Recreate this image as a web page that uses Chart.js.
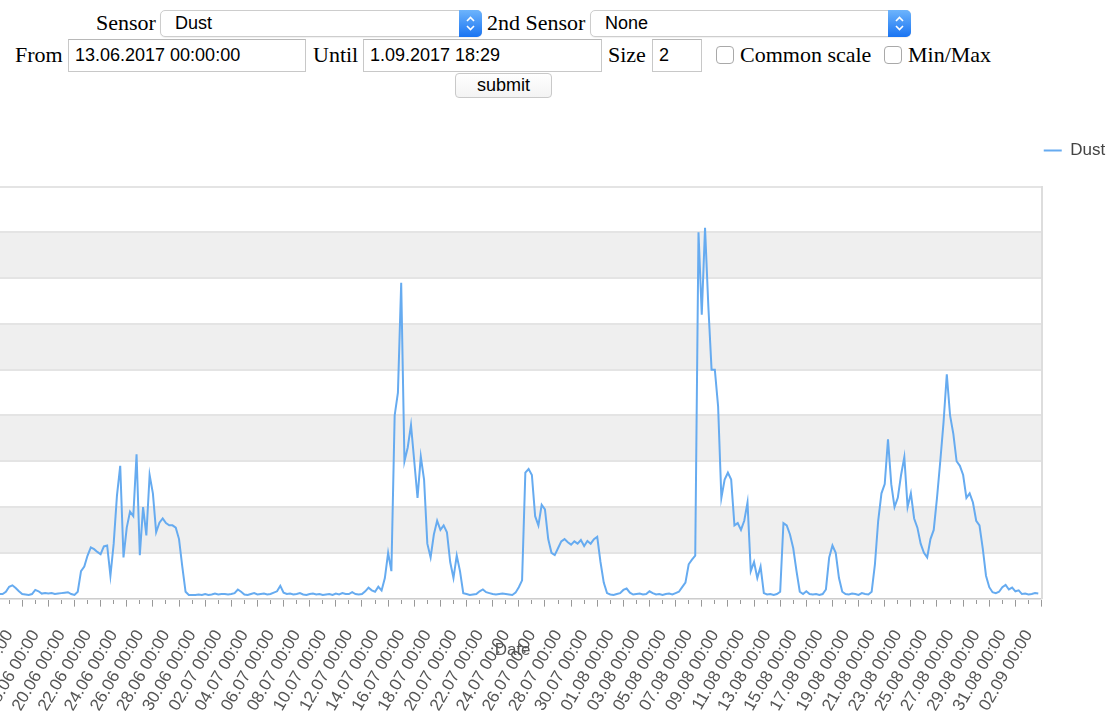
<!DOCTYPE html>
<html>
<head>
<meta charset="utf-8">
<script src="https://cdn.jsdelivr.net/npm/chart.js@4.4.1/dist/chart.umd.min.js"></script>
<style>
  body { margin: 0; width: 1106px; height: 712px; overflow: hidden; position: relative; background: #fff; }
  .t { position: absolute; font: 22px "Liberation Serif", "Times New Roman", serif; color: #000; line-height: 26px; white-space: nowrap; }
  .sel { position: absolute; top: 10px; height: 27px; box-sizing: border-box; border: 1px solid #cdcdcd; border-radius: 5px;
         background: #fff; box-shadow: 0 1px 1px rgba(0,0,0,0.06); font: 18px "Liberation Sans", Arial, sans-serif;
         line-height: 25px; padding-left: 14px; color: #000; }
  .arr { position: absolute; right: -1px; top: -1px; width: 23px; height: 27px; border-radius: 0 5px 5px 0;
         background: linear-gradient(#6db4fc, #1a74f2); }
  .arr svg { position: absolute; left: 6px; top: 5px; }
  input.inp { position: absolute; top: 39px; height: 33px; box-sizing: border-box; border: 1px solid #c8c8c8; border-top-color: #b8b8b8;
         font: 18px "Liberation Sans", Arial, sans-serif; padding: 0 0 0 6px; margin: 0; outline: none; color: #000; background: #fff; }
  .cb { position: absolute; top: 46px; width: 18px; height: 18px; box-sizing: border-box; border: 1px solid #a9a9a9; border-radius: 4px; background: #fff; }
  button.btn { position: absolute; left: 455px; top: 73px; width: 97px; height: 25px; box-sizing: border-box; border: 1px solid #c9c9c9;
         border-radius: 4px; font: 18px "Liberation Sans", Arial, sans-serif; background: linear-gradient(#fff, #f3f3f3); color: #000; padding: 0; margin: 0; }
  #wrap { position: absolute; left: -42.2px; top: 121.5px; width: 1167.2px; height: 633px; }
</style>
</head>
<body>
<span class="t" style="left:96px; top:10px">Sensor</span>
<div class="sel" style="left:160px; width:322px">Dust<span class="arr"><svg width="11" height="17" viewBox="0 0 11 17"><polyline points="2,6 5.5,2.5 9,6" fill="none" stroke="#fff" stroke-width="1.6"/><polyline points="2,11 5.5,14.5 9,11" fill="none" stroke="#fff" stroke-width="1.6"/></svg></span></div>
<span class="t" style="left:487px; top:10px">2nd Sensor</span>
<div class="sel" style="left:590px; width:321px">None<span class="arr"><svg width="11" height="17" viewBox="0 0 11 17"><polyline points="2,6 5.5,2.5 9,6" fill="none" stroke="#fff" stroke-width="1.6"/><polyline points="2,11 5.5,14.5 9,11" fill="none" stroke="#fff" stroke-width="1.6"/></svg></span></div>

<span class="t" style="left:15px; top:42px">From</span>
<input class="inp" style="left:68px; width:238px" value="13.06.2017 00:00:00">
<span class="t" style="left:313px; top:42px">Until</span>
<input class="inp" style="left:363px; width:239px" value="1.09.2017 18:29">
<span class="t" style="left:608px; top:42px">Size</span>
<input class="inp" style="left:652px; width:50px" value="2">
<span class="cb" style="left:716px"></span>
<span class="t" style="left:740px; top:42px">Common scale</span>
<span class="cb" style="left:884px"></span>
<span class="t" style="left:908px; top:42px">Min/Max</span>
<button class="btn">submit</button>

<div id="wrap"><canvas id="chart"></canvas></div>

<script>
//data: dust readings every 6 hours starting 13.06.2017 00:00
const stepDays = 0.25;
const dust = [
  1.3, 1.1, 0.9, 1.0, 1.2, 1.0, 1.0, 1.5, 2.6, 2.9,
  2.3, 1.6, 1.0, 0.9, 0.8, 1.0, 1.9, 1.6, 1.1, 1.2,
  1.1, 1.2, 1.0, 1.1, 1.2, 1.3, 1.4, 1.0, 0.8, 1.5,
  6.0, 7.0, 9.4, 11.2, 10.8, 10.2, 9.7, 11.4, 11.6, 5.0,
  12.0, 22.5, 29.0, 9.0, 15.5, 19.0, 18.0, 31.5, 9.5, 20.0,
  13.8, 27.0, 23.0, 14.5, 16.6, 17.5, 16.5, 16.0, 16.0, 15.5,
  13.0, 7.0, 1.5, 0.8, 0.8, 0.8, 0.9, 0.8, 1.0, 0.8,
  0.9, 1.1, 0.9, 1.0, 1.0, 0.9, 1.0, 1.2, 2.0, 1.5,
  0.9, 0.8, 1.0, 1.2, 0.9, 1.0, 1.1, 0.9, 1.0, 1.3,
  1.6, 2.8, 1.3, 1.0, 1.1, 0.9, 1.0, 1.2, 0.9, 0.8,
  1.0, 1.1, 0.9, 1.0, 0.8, 0.9, 1.0, 0.8, 1.1, 0.9,
  1.2, 1.0, 1.0, 1.4, 1.0, 0.9, 1.0, 1.6, 2.4, 1.8,
  1.5, 2.6, 1.8, 4.5, 10.0, 6.0, 40.0, 45.0, 69.0, 30.0,
  33.0, 37.9, 30.0, 22.0, 31.0, 26.0, 12.0, 9.0, 14.0, 17.0,
  15.0, 16.0, 14.5, 8.0, 4.5, 9.4, 6.0, 1.2, 1.0, 0.8,
  0.9, 1.0, 1.6, 2.0, 1.4, 1.2, 1.0, 0.9, 1.0, 1.1,
  1.0, 0.9, 0.8, 1.3, 2.5, 4.0, 27.5, 28.3, 27.0, 18.0,
  16.0, 20.5, 19.5, 13.0, 10.0, 9.5, 11.0, 12.5, 13.0, 12.3,
  11.8, 12.5, 12.0, 12.8, 11.5, 12.6, 12.0, 13.0, 13.5, 8.0,
  3.5, 1.2, 0.9, 0.8, 1.0, 1.2, 1.9, 2.2, 1.3, 0.9,
  1.0, 1.1, 0.9, 1.0, 1.6, 1.2, 0.9, 1.0, 0.8, 1.0,
  1.1, 0.9, 1.2, 1.5, 2.5, 3.5, 7.5, 8.5, 9.4, 80.0,
  62.0, 81.0, 64.0, 50.0, 50.0, 42.0, 22.0, 26.0, 27.5, 26.0,
  16.0, 16.5, 15.0, 17.0, 21.0, 6.0, 8.0, 4.5, 7.0, 1.2,
  0.9, 1.0, 0.8, 1.0, 1.5, 16.5, 16.0, 14.0, 11.0, 6.0,
  1.5, 1.0, 1.6, 1.0, 0.9, 1.0, 0.8, 1.0, 2.0, 9.0,
  11.6, 10.0, 4.5, 1.5, 1.0, 0.9, 1.1, 1.0, 0.8, 1.2,
  1.0, 0.9, 1.5, 7.5, 17.0, 23.0, 25.0, 34.8, 25.0, 20.0,
  22.0, 27.0, 30.9, 20.0, 23.0, 17.5, 15.5, 12.0, 10.0, 9.0,
  13.0, 15.0, 22.0, 30.0, 38.5, 49.0, 40.0, 36.0, 30.0, 29.0,
  27.0, 22.0, 23.0, 21.0, 17.0, 16.0, 11.0, 5.0, 2.5, 1.4,
  1.2, 1.5, 2.5, 3.0, 2.0, 2.4, 1.6, 1.8, 1.0, 1.1,
  0.9, 1.0, 1.2, 1.1
];
//labels on every second day (day 1 = 14.06)
const dayLabels = [
  '14.06 00:00', '16.06 00:00', '18.06 00:00', '20.06 00:00', '22.06 00:00', '24.06 00:00',
  '26.06 00:00', '28.06 00:00', '30.06 00:00', '02.07 00:00', '04.07 00:00', '06.07 00:00',
  '08.07 00:00', '10.07 00:00', '12.07 00:00', '14.07 00:00', '16.07 00:00', '18.07 00:00',
  '20.07 00:00', '22.07 00:00', '24.07 00:00', '26.07 00:00', '28.07 00:00', '30.07 00:00',
  '01.08 00:00', '03.08 00:00', '05.08 00:00', '07.08 00:00', '09.08 00:00', '11.08 00:00',
  '13.08 00:00', '15.08 00:00', '17.08 00:00', '19.08 00:00', '21.08 00:00', '23.08 00:00',
  '25.08 00:00', '27.08 00:00', '29.08 00:00', '31.08 00:00', '02.09 00:00'
];
const yTicks = [0, 10, 20, 30, 40, 50, 60, 70, 80, 90];

const lineColor = '#66abf0';
const font = { family: '"Liberation Sans", Arial, sans-serif', size: 17 };
const points = dust.map((v, i) => ({ x: i * stepDays, y: v }));

//grey band on every second row
const bands = {
  id: 'bands',
  beforeDraw(chart) {
    const { ctx, chartArea: a, scales: { y } } = chart;
    ctx.save();
    ctx.fillStyle = '#efefef';
    for (let i = 1; i < yTicks.length - 1; i += 2) {
      const top = y.getPixelForValue(yTicks[i + 1]);
      const bot = y.getPixelForValue(yTicks[i]);
      ctx.fillRect(a.left, top, a.right - a.left, bot - top);
    }
    ctx.restore();
  }
};

new Chart(document.getElementById('chart'), {
  type: 'line',
  data: {
    datasets: [{
      label: 'Dust',
      data: points,
      borderColor: lineColor,
      backgroundColor: lineColor,
      borderWidth: 2,
      pointRadius: 0,
      tension: 0,
      fill: false
    }]
  },
  options: {
    responsive: true,
    maintainAspectRatio: false,
    animation: false,
    layout: { padding: 0 },
    plugins: {
      legend: {
        position: 'top',
        align: 'end',
        labels: { usePointStyle: true, pointStyle: 'line', pointStyleWidth: 18, padding: 20, color: '#444', font: font }
      },
      tooltip: { enabled: false }
    },
    scales: {
      x: {
        type: 'linear',
        min: 0,
        max: 81.05,
        afterBuildTicks: s => { s.ticks = s.ticks.filter(t => Number.isInteger(t.value)); },
        ticks: {
          stepSize: 1,
          autoSkip: false,
          includeBounds: false,
          minRotation: 60,
          maxRotation: 60,
          labelOffset: -13,
          padding: 20,
          color: '#555',
          font: font,
          callback: v => (v % 2 === 1 ? dayLabels[(v - 1) / 2] : '')
        },
        grid: {
          drawOnChartArea: false,
          drawTicks: true,
          tickLength: 8,
          tickColor: '#999',
          tickBorderDash: c => (c.tick && c.tick.value % 2 === 1 ? [] : [5, 20])
        },
        border: { color: '#ccc', width: 1 },
        title: { display: true, text: 'Date', color: '#555', font: font, padding: { top: -94, bottom: 94 } }
      },
      x2: {
        type: 'linear',
        position: 'top',
        ticks: { display: false },
        grid: { display: false, drawTicks: false },
        border: { display: false },
        afterFit: s => { s.height = 17.5; }
      },
      y: {
        min: 0,
        max: 90,
        ticks: { stepSize: 10, display: false },
        grid: { color: '#e4e4e4', lineWidth: 2, drawTicks: false },
        border: { display: false },
        afterFit: s => { s.width = 25; }
      },
      y2: {
        position: 'right',
        min: 0,
        max: 90,
        ticks: { display: false },
        grid: { display: false, drawTicks: false },
        border: { display: true, color: '#ddd', width: 2 },
        afterFit: s => { s.width = 83; }
      }
    }
  },
  plugins: [bands]
});
</script>
</body>
</html>
